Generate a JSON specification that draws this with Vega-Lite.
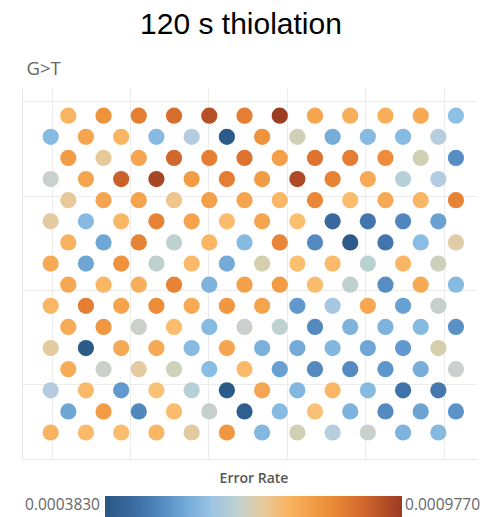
{
  "$schema": "https://vega.github.io/schema/vega-lite/v6.json",
  "autosize": "none",
  "width": 454,
  "height": 371,
  "padding": {"left": 22, "top": 88, "right": 16, "bottom": 58},
  "background": "white",
  "title": {"text": "120 s thiolation", "font": "Liberation Sans", "fontSize": 30, "fontWeight": "normal", "color": "#000000", "anchor": "middle", "dx": -8, "offset": 20},
  "data": {"values": [
    {"x":0.5,"y":0,"v":0.000750},{"x":1.5,"y":0,"v":0.000820},{"x":2.5,"y":0,"v":0.000860},{"x":3.5,"y":0,"v":0.000890},{"x":4.5,"y":0,"v":0.000940},{"x":5.5,"y":0,"v":0.000860},{"x":6.5,"y":0,"v":0.000975},{"x":7.5,"y":0,"v":0.000780},{"x":8.5,"y":0,"v":0.000760},{"x":9.5,"y":0,"v":0.000760},{"x":10.5,"y":0,"v":0.000770},{"x":11.5,"y":0,"v":0.000580},
    {"x":0,"y":1,"v":0.000570},{"x":1,"y":1,"v":0.000780},{"x":2,"y":1,"v":0.000750},{"x":3,"y":1,"v":0.000570},{"x":4,"y":1,"v":0.000630},{"x":5,"y":1,"v":0.000395},{"x":6,"y":1,"v":0.000820},{"x":7,"y":1,"v":0.000680},{"x":8,"y":1,"v":0.000550},{"x":9,"y":1,"v":0.000570},{"x":10,"y":1,"v":0.000570},{"x":11,"y":1,"v":0.000635},
    {"x":0.5,"y":2,"v":0.000800},{"x":1.5,"y":2,"v":0.000700},{"x":2.5,"y":2,"v":0.000780},{"x":3.5,"y":2,"v":0.000900},{"x":4.5,"y":2,"v":0.000860},{"x":5.5,"y":2,"v":0.000880},{"x":6.5,"y":2,"v":0.000790},{"x":7.5,"y":2,"v":0.000880},{"x":8.5,"y":2,"v":0.000860},{"x":9.5,"y":2,"v":0.000830},{"x":10.5,"y":2,"v":0.000680},{"x":11.5,"y":2,"v":0.000500},
    {"x":0,"y":3,"v":0.000660},{"x":1,"y":3,"v":0.000780},{"x":2,"y":3,"v":0.000910},{"x":3,"y":3,"v":0.000960},{"x":4,"y":3,"v":0.000800},{"x":5,"y":3,"v":0.000860},{"x":6,"y":3,"v":0.000800},{"x":7,"y":3,"v":0.000950},{"x":8,"y":3,"v":0.000850},{"x":9,"y":3,"v":0.000770},{"x":10,"y":3,"v":0.000640},{"x":11,"y":3,"v":0.000630},
    {"x":0.5,"y":4,"v":0.000700},{"x":1.5,"y":4,"v":0.000780},{"x":2.5,"y":4,"v":0.000785},{"x":3.5,"y":4,"v":0.000710},{"x":4.5,"y":4,"v":0.000790},{"x":5.5,"y":4,"v":0.000780},{"x":6.5,"y":4,"v":0.000745},{"x":7.5,"y":4,"v":0.000840},{"x":8.5,"y":4,"v":0.000735},{"x":9.5,"y":4,"v":0.000770},{"x":10.5,"y":4,"v":0.000745},{"x":11.5,"y":4,"v":0.000850},
    {"x":0,"y":5,"v":0.000695},{"x":1,"y":5,"v":0.000570},{"x":2,"y":5,"v":0.000745},{"x":3,"y":5,"v":0.000850},{"x":4,"y":5,"v":0.000785},{"x":5,"y":5,"v":0.000735},{"x":6,"y":5,"v":0.000780},{"x":7,"y":5,"v":0.000730},{"x":8,"y":5,"v":0.000430},{"x":9,"y":5,"v":0.000460},{"x":10,"y":5,"v":0.000490},{"x":11,"y":5,"v":0.000530},
    {"x":0.5,"y":6,"v":0.000755},{"x":1.5,"y":6,"v":0.000540},{"x":2.5,"y":6,"v":0.000850},{"x":3.5,"y":6,"v":0.000650},{"x":4.5,"y":6,"v":0.000745},{"x":5.5,"y":6,"v":0.000570},{"x":6.5,"y":6,"v":0.000845},{"x":7.5,"y":6,"v":0.000495},{"x":8.5,"y":6,"v":0.000395},{"x":9.5,"y":6,"v":0.000460},{"x":10.5,"y":6,"v":0.000575},{"x":11.5,"y":6,"v":0.000690},
    {"x":0,"y":7,"v":0.000770},{"x":1,"y":7,"v":0.000540},{"x":2,"y":7,"v":0.000820},{"x":3,"y":7,"v":0.000650},{"x":4,"y":7,"v":0.000740},{"x":5,"y":7,"v":0.000545},{"x":6,"y":7,"v":0.000685},{"x":7,"y":7,"v":0.000730},{"x":8,"y":7,"v":0.000740},{"x":9,"y":7,"v":0.000645},{"x":10,"y":7,"v":0.000745},{"x":11,"y":7,"v":0.000675},
    {"x":0.5,"y":8,"v":0.000775},{"x":1.5,"y":8,"v":0.000745},{"x":2.5,"y":8,"v":0.000760},{"x":3.5,"y":8,"v":0.000850},{"x":4.5,"y":8,"v":0.000560},{"x":5.5,"y":8,"v":0.000790},{"x":6.5,"y":8,"v":0.000800},{"x":7.5,"y":8,"v":0.000735},{"x":8.5,"y":8,"v":0.000650},{"x":9.5,"y":8,"v":0.000500},{"x":10.5,"y":8,"v":0.000770},{"x":11.5,"y":8,"v":0.000570},
    {"x":0,"y":9,"v":0.000745},{"x":1,"y":9,"v":0.000860},{"x":2,"y":9,"v":0.000785},{"x":3,"y":9,"v":0.000830},{"x":4,"y":9,"v":0.000770},{"x":5,"y":9,"v":0.000810},{"x":6,"y":9,"v":0.000785},{"x":7,"y":9,"v":0.000520},{"x":8,"y":9,"v":0.000610},{"x":9,"y":9,"v":0.000775},{"x":10,"y":9,"v":0.000530},{"x":11,"y":9,"v":0.000655},
    {"x":0.5,"y":10,"v":0.000765},{"x":1.5,"y":10,"v":0.000810},{"x":2.5,"y":10,"v":0.000665},{"x":3.5,"y":10,"v":0.000735},{"x":4.5,"y":10,"v":0.000570},{"x":5.5,"y":10,"v":0.000660},{"x":6.5,"y":10,"v":0.000650},{"x":7.5,"y":10,"v":0.000495},{"x":8.5,"y":10,"v":0.000560},{"x":9.5,"y":10,"v":0.000560},{"x":10.5,"y":10,"v":0.000570},{"x":11.5,"y":10,"v":0.000505},
    {"x":0,"y":11,"v":0.000695},{"x":1,"y":11,"v":0.000395},{"x":2,"y":11,"v":0.000770},{"x":3,"y":11,"v":0.000770},{"x":4,"y":11,"v":0.000570},{"x":5,"y":11,"v":0.000780},{"x":6,"y":11,"v":0.000555},{"x":7,"y":11,"v":0.000545},{"x":8,"y":11,"v":0.000565},{"x":9,"y":11,"v":0.000540},{"x":10,"y":11,"v":0.000520},{"x":11,"y":11,"v":0.000685},
    {"x":0.5,"y":12,"v":0.000765},{"x":1.5,"y":12,"v":0.000665},{"x":2.5,"y":12,"v":0.000695},{"x":3.5,"y":12,"v":0.000675},{"x":4.5,"y":12,"v":0.000575},{"x":5.5,"y":12,"v":0.000740},{"x":6.5,"y":12,"v":0.000530},{"x":7.5,"y":12,"v":0.000495},{"x":8.5,"y":12,"v":0.000495},{"x":9.5,"y":12,"v":0.000515},{"x":10.5,"y":12,"v":0.000550},{"x":11.5,"y":12,"v":0.000660},
    {"x":0,"y":13,"v":0.000630},{"x":1,"y":13,"v":0.000740},{"x":2,"y":13,"v":0.000520},{"x":3,"y":13,"v":0.000725},{"x":4,"y":13,"v":0.000640},{"x":5,"y":13,"v":0.000395},{"x":6,"y":13,"v":0.000780},{"x":7,"y":13,"v":0.000565},{"x":8,"y":13,"v":0.000745},{"x":9,"y":13,"v":0.000570},{"x":10,"y":13,"v":0.000455},{"x":11,"y":13,"v":0.000465},
    {"x":0.5,"y":14,"v":0.000540},{"x":1.5,"y":14,"v":0.000800},{"x":2.5,"y":14,"v":0.000490},{"x":3.5,"y":14,"v":0.000735},{"x":4.5,"y":14,"v":0.000655},{"x":5.5,"y":14,"v":0.000405},{"x":6.5,"y":14,"v":0.000570},{"x":7.5,"y":14,"v":0.000725},{"x":8.5,"y":14,"v":0.000560},{"x":9.5,"y":14,"v":0.000495},{"x":10.5,"y":14,"v":0.000535},{"x":11.5,"y":14,"v":0.000510},
    {"x":0,"y":15,"v":0.000750},{"x":1,"y":15,"v":0.000740},{"x":2,"y":15,"v":0.000735},{"x":3,"y":15,"v":0.000745},{"x":4,"y":15,"v":0.000695},{"x":5,"y":15,"v":0.000810},{"x":6,"y":15,"v":0.000565},{"x":7,"y":15,"v":0.000680},{"x":8,"y":15,"v":0.000635},{"x":9,"y":15,"v":0.000660},{"x":10,"y":15,"v":0.000560},{"x":11,"y":15,"v":0.000570}
  ]},
  "mark": {"type": "circle", "size": 263, "opacity": 1},
  "encoding": {
    "x": {"field": "x", "type": "quantitative",
      "scale": {"domain": [-0.814, 12.069], "nice": false, "zero": false},
      "axis": {"title": null, "labels": false, "ticks": false, "domain": true, "domainColor": "#e8e8e8", "grid": true, "gridColor": "#ececec", "values": [0.03, 2.25, 4.47, 6.7, 8.92, 11.15]}},
    "y": {"field": "y", "type": "quantitative",
      "scale": {"domain": [-1.312, 16.254], "reverse": true, "nice": false, "zero": false},
      "axis": {"title": "G>T", "titleAngle": 0, "titleX": 4, "titleY": -19.5, "titleAlign": "left", "titleBaseline": "middle", "titleFont": "Open Sans", "titleFontSize": 18.5, "titleFontWeight": "normal", "titleColor": "#666666",
        "labels": false, "ticks": false, "domain": true, "domainColor": "#e8e8e8", "grid": true, "gridColor": "#ececec", "values": [-0.7, 3.78, 8.26, 12.72]}},
    "color": {"field": "v", "type": "quantitative",
      "scale": {
        "domain": [0.000383, 0.0004543, 0.0005137, 0.000579, 0.0006325, 0.0006622, 0.0006919, 0.0007275, 0.0007691, 0.0008226, 0.000876, 0.0009295, 0.000977],
        "range": ["#2a5783", "#3f72a9", "#5d95cb", "#8dc0e5", "#b7cde0", "#ccd0cc", "#e2cba6", "#fbc072", "#f7aa55", "#ef913c", "#e07530", "#bd5628", "#9a3c22"]},
      "legend": {"title": "Error Rate", "orient": "none", "legendX": 83, "legendY": 384, "direction": "horizontal",
        "gradientLength": 297, "gradientThickness": 24, "gradientStrokeWidth": 0,
        "values": [0.000223, 0.001133],
        "labelExpr": "datum.value < 0.00068 ? '0.0003830' : '0.0009770'",
        "labelOffset": -22, "labelOverlap": false,
        "titleFont": "Open Sans", "titleFontSize": 14, "titleFontWeight": 600, "titleColor": "#555555", "titleAnchor": "middle", "titlePadding": 10,
        "labelFont": "Open Sans", "labelFontSize": 15.5, "labelColor": "#666666"}
    }
  },
  "config": {"view": {"stroke": null}}
}
